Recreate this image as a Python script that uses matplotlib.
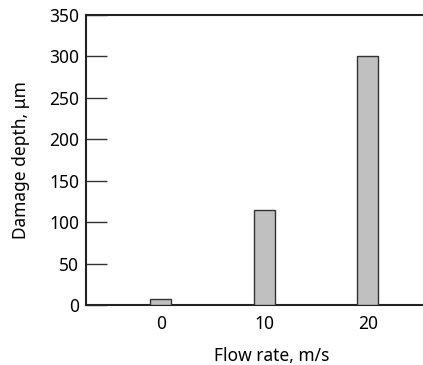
import matplotlib
matplotlib.use("Agg")
import matplotlib.pyplot as plt

flow_rates = [0, 10, 20]
damage_depth = [7, 115, 300]
y_ticks = [0, 50, 100, 150, 200, 250, 300, 350]

plt.rcParams['font.family'] = ['Noto Sans', 'DejaVu Sans']

fig = plt.figure(figsize=(4.23, 3.65), dpi=100)
ax = fig.add_axes([86/423, 1-305/365, (458-86)/423, (305-15)/365])

ax.bar(flow_rates, damage_depth, width=2.05, color='#c0c0c0', edgecolor='#333333', linewidth=1.0, zorder=3)

ax.set_xlim(-7.22, 28.72)
ax.set_ylim(0, 350)
ax.set_yticks(y_ticks)
ax.set_xticks(flow_rates)
ax.tick_params(axis='y', direction='in', length=15, width=1, color='#333333', labelsize=12.5, pad=5)
ax.tick_params(axis='x', length=0, labelsize=12.5, pad=7)
for s in ['left', 'top', 'bottom']:
    ax.spines[s].set_linewidth(1.5)
    ax.spines[s].set_color('#222222')
ax.spines['right'].set_visible(False)

ax.set_xlabel('Flow rate, m/s', fontsize=12.5, labelpad=10)
ax.set_ylabel('Damage depth, μm', fontsize=12.5, labelpad=14)

fig.savefig('out.png', dpi=100)
